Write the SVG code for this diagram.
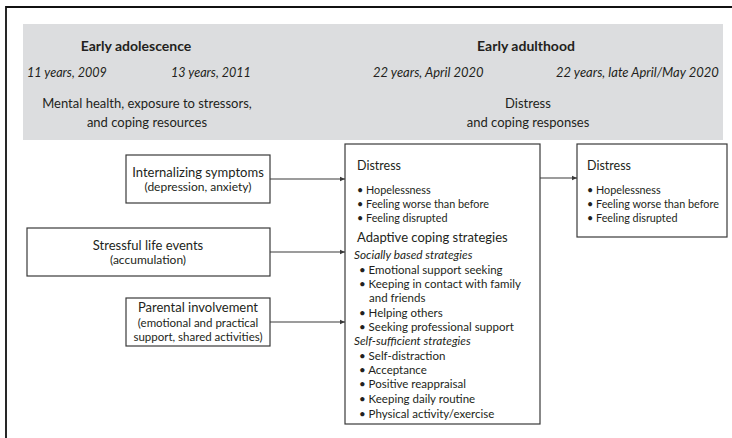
<svg xmlns="http://www.w3.org/2000/svg" width="732" height="438" viewBox="0 0 732 438">
<style>
text{font-family:Lato,"Open Sans","Liberation Sans",sans-serif;fill:#231f20}
.b{font-weight:bold;font-size:14px}
.i{font-style:italic;font-size:13px}
.t{font-size:13px}
.s{font-size:11.5px}
.d{font-size:10.8px}
.h{font-size:12.5px}
.m{text-anchor:middle}
.box{fill:#fff;stroke:#3a3a3a;stroke-width:1.2}
.con{stroke:#3a3a3a;stroke-width:1.2;fill:none}
</style>
<defs>
<marker id="ah" markerWidth="6" markerHeight="6" refX="5" refY="3" orient="auto" markerUnits="userSpaceOnUse">
<path d="M0,0.8 L5,3 L0,5.2 Z" fill="#3a3a3a"/>
</marker>
</defs>
<g id="frame">
<path d="M6,438 V7 H732" fill="none" stroke="#111" stroke-width="1.8"/>
</g>
<g id="header">
<rect x="23" y="24" width="700" height="116" fill="#dcdddf"/>
<text class="b m" x="136" y="51">Early adolescence</text>
<text class="i" x="27" y="77" style="font-size:12.6px">11 years, 2009</text>
<text class="i" x="171" y="77" style="font-size:12.6px">13 years, 2011</text>
<text class="t m" x="147" y="108">Mental health, exposure to stressors,</text>
<text class="t m" x="147" y="127">and coping resources</text>
<text class="b m" x="526" y="51">Early adulthood</text>
<text class="i" x="373" y="77">22 years, April 2020</text>
<text class="i" x="556" y="77">22 years, late April/May 2020</text>
<text class="t m" x="528" y="108">Distress</text>
<text class="t m" x="528" y="127">and coping responses</text>
</g>
<g id="internalizing">
<rect class="box" x="126" y="155" width="144" height="48"/>
<text class="t m" x="198" y="177">Internalizing symptoms</text>
<text class="s m" x="198" y="191" style="font-size:12px">(depression, anxiety)</text>
</g>
<g id="stressful">
<rect class="box" x="27" y="228" width="243" height="48"/>
<text class="t m" x="148" y="250">Stressful life events</text>
<text class="s m" x="148" y="264" style="font-size:12px">(accumulation)</text>
</g>
<g id="parental">
<rect class="box" x="126" y="298" width="144" height="48"/>
<text class="t m" x="198" y="312">Parental involvement</text>
<text class="s m" x="198" y="327">(emotional and practical</text>
<text class="s m" x="198" y="341">support, shared activities)</text>
</g>
<g id="central">
<rect class="box" x="345" y="144" width="195" height="280"/>
<text class="h" x="357" y="170">Distress</text>
<text class="d" x="357" y="194">• Hopelessness</text>
<text class="d" x="357" y="208">• Feeling worse than before</text>
<text class="d" x="357" y="222">• Feeling disrupted</text>
<text class="t" x="357" y="242">Adaptive coping strategies</text>
<text class="s" x="354" y="259" style="font-style:italic;font-size:11.8px">Socially based strategies</text>
<text class="s" x="359" y="274">• Emotional support seeking</text>
<text class="s" x="359" y="288">• Keeping in contact with family</text>
<text class="s" x="369" y="302">and friends</text>
<text class="s" x="359" y="317">• Helping others</text>
<text class="s" x="359" y="331">• Seeking professional support</text>
<text class="s" x="354" y="345" style="font-style:italic;font-size:11.8px">Self-sufficient strategies</text>
<text class="s" x="359" y="360">• Self-distraction</text>
<text class="s" x="359" y="374">• Acceptance</text>
<text class="s" x="359" y="388">• Positive reappraisal</text>
<text class="s" x="359" y="403">• Keeping daily routine</text>
<text class="s" x="359" y="418">• Physical activity/exercise</text>
</g>
<g id="outcome">
<rect class="box" x="577" y="144" width="150" height="93"/>
<text class="h" x="587" y="170">Distress</text>
<text class="d" x="587" y="194">• Hopelessness</text>
<text class="d" x="587" y="208">• Feeling worse than before</text>
<text class="d" x="587" y="222">• Feeling disrupted</text>
</g>
<g id="connectors">
<line class="con" x1="270" y1="179" x2="345" y2="179" marker-end="url(#ah)"/>
<line class="con" x1="270" y1="252" x2="345" y2="252" marker-end="url(#ah)"/>
<line class="con" x1="270" y1="322" x2="345" y2="322" marker-end="url(#ah)"/>
<line class="con" x1="540" y1="178" x2="577" y2="178" marker-end="url(#ah)"/>
</g>
</svg>
